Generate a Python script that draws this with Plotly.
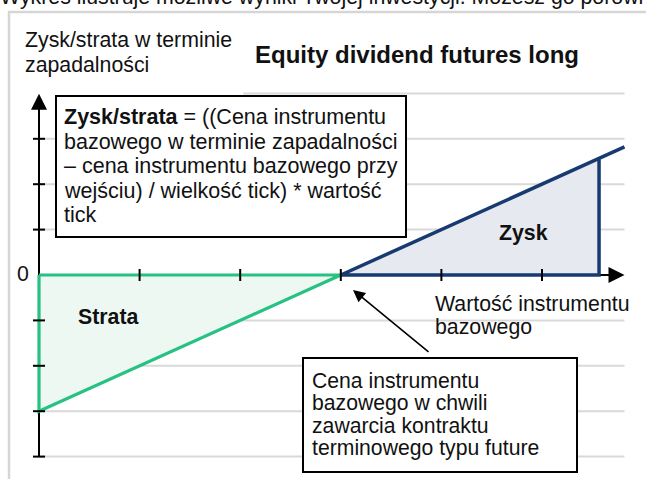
import plotly.graph_objects as go

# ---------------- data ----------------
x_ticks = [1, 2, 3, 4, 5]
y_ticks = [-4, -3, -2, -1, 1, 2, 3]
grid_levels = [-4, -3, -2, -1, 1, 2, 3, 4]
entry_price = 3
loss_x = [0, 0, 3, 0]
loss_y = [0, -3, 0, 0]
profit_x = [5.82, 3, 5.567, 5.567]
profit_y = [2.82, 0, 0, 2.567]
profit_fill_x = [3, 5.567, 5.567, 3]
profit_fill_y = [0, 2.567, 0, 0]
axis_x_end = 5.82
axis_y_top = 3.99
axis_y_bottom = -4

header = "Wykres ilustruje możliwe wyniki Twojej inwestycji. Możesz go porównać z wynikami innych produktów"
y_title = ["Zysk/strata w terminie", "zapadalności"]
title = "Equity dividend futures long"
formula_lines = ["<b>Zysk/strata</b> = ((Cena instrumentu",
                 "bazowego w terminie zapadalności",
                 "– cena instrumentu bazowego przy",
                 "wejściu) / wielkość tick) * wartość",
                 "tick"]
entry_lines = ["Cena instrumentu", "bazowego w chwili",
               "zawarcia kontraktu", "terminowego typu future"]
x_title = ["Wartość instrumentu", "bazowego"]

# ---------------- geometry helpers (pixel -> data) ----------------
W, H = 646, 479
X0, SX = 39, 100.6
Y0, SY = 275, 45.4


def dx(p):
    return (p - X0) / SX


def dy(p):
    return (Y0 - p) / SY


GREEN = "#27c283"
NAVY = "#173a70"
FONT = "Arial, Liberation Sans, sans-serif"
TXT = "#111111"

fig = go.Figure()

# outer panel border
fig.add_shape(type="rect", x0=dx(9), y0=dy(12), x1=dx(760), y1=dy(620),
              line=dict(color="#d6d6d6", width=2.5), fillcolor="rgba(0,0,0,0)", layer="below")

# gridlines
for g in grid_levels:
    xs = 2.03 if g == 4 else 0
    fig.add_shape(type="line", x0=xs, x1=axis_x_end, y0=g, y1=g,
                  line=dict(color="#d9d9d9", width=2), layer="below")

# fills
fig.add_trace(go.Scatter(x=loss_x, y=loss_y, fill="toself", fillcolor="#eef8f3",
                         mode="none", hoverinfo="skip"))
fig.add_trace(go.Scatter(x=profit_fill_x, y=profit_fill_y, fill="toself", fillcolor="#e7e9f0",
                         mode="none", hoverinfo="skip"))

# axes lines
fig.add_trace(go.Scatter(x=[0, 0, None, 0, axis_x_end - 0.08],
                         y=[axis_y_bottom, axis_y_top - 0.15, None, 0, 0],
                         mode="lines", line=dict(color="black", width=2), hoverinfo="skip"))

# payoff lines
fig.add_trace(go.Scatter(x=loss_x, y=loss_y, mode="lines",
                         line=dict(color=GREEN, width=3.2), hoverinfo="skip"))
fig.add_trace(go.Scatter(x=profit_x, y=profit_y, mode="lines",
                         line=dict(color=NAVY, width=3.5), hoverinfo="skip"))

# ticks
tx, ty = [], []
for t in x_ticks:
    tx += [t, t, None]
    ty += [-6 / SY, 6 / SY, None]
for t in y_ticks:
    tx += [-6 / SX, 6 / SX, None]
    ty += [t, t, None]
fig.add_trace(go.Scatter(x=tx, y=ty, mode="lines", line=dict(color="black", width=2),
                         hoverinfo="skip"))

# text boxes
fig.add_shape(type="rect", x0=dx(56), y0=dy(96), x1=dx(406), y1=dy(237),
              line=dict(color="black", width=2), fillcolor="white", layer="above")
fig.add_shape(type="rect", x0=dx(303), y0=dy(358), x1=dx(577), y1=dy(472),
              line=dict(color="black", width=2), fillcolor="white", layer="above")

# axis arrowheads
fig.add_annotation(x=axis_x_end, y=0, ax=axis_x_end - 0.25, ay=0, axref="x", ayref="y",
                   xref="x", yref="y", text="", showarrow=True, arrowhead=2,
                   arrowsize=1.6, arrowwidth=2, arrowcolor="black")
fig.add_annotation(x=0, y=axis_y_top, ax=0, ay=axis_y_top - 0.5, axref="x", ayref="y",
                   xref="x", yref="y", text="", showarrow=True, arrowhead=2,
                   arrowsize=1.6, arrowwidth=2, arrowcolor="black")
# pointer arrow
fig.add_annotation(x=dx(353), y=dy(290), ax=dx(430), ay=dy(353), axref="x", ayref="y",
                   xref="x", yref="y", text="", showarrow=True, arrowhead=2,
                   arrowsize=1.5, arrowwidth=1.6, arrowcolor="black")


def txt(s, px, py, size=21.3, anchor="left"):
    fig.add_annotation(x=dx(px), y=dy(py), xref="x", yref="y", text=s, showarrow=False,
                       xanchor=anchor, yanchor="middle",
                       font=dict(family=FONT, size=size, color=TXT))


# header line, cut by the top edge (paper-referenced so it is not hidden)
fig.add_annotation(x=-2 / W, y=(H + 3) / H, xref="paper", yref="paper", text=header,
                   showarrow=False, xanchor="left", yanchor="middle",
                   font=dict(family=FONT, size=21.3, color=TXT))
txt(y_title[0], 23, 40)
txt(y_title[1], 23, 65)
txt("<b>" + title + "</b>", 253, 54, size=24)
for i, s in enumerate(formula_lines):
    txt(s, 62, 117 + i * 24.5, size=21.5)
for i, s in enumerate(entry_lines):
    txt(s, 310, 380 + i * 22.8, size=21.2)
txt(x_title[0], 433, 304)
txt(x_title[1], 433, 327)
txt("<b>Strata</b>", 76, 317)
txt("<b>Zysk</b>", 497, 233)
txt("0", 15, 274)

fig.update_layout(
    width=W, height=H, margin=dict(l=0, r=0, t=0, b=0),
    paper_bgcolor="white", plot_bgcolor="white", showlegend=False,
    xaxis=dict(visible=False, range=[dx(0), dx(W)], fixedrange=True),
    yaxis=dict(visible=False, range=[dy(H), dy(0)], fixedrange=True),
    font=dict(family=FONT),
)

fig.write_html("out.html", config={"displayModeBar": False},
               post_script="document.body.style.margin='0';document.body.style.overflow='hidden';")
